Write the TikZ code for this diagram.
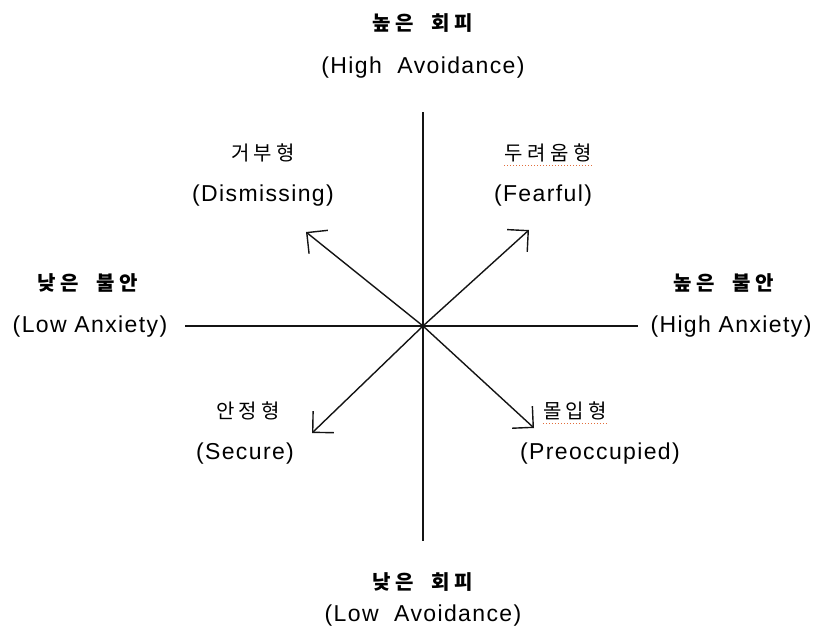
\documentclass[tikz,border=0pt]{standalone}
\usepackage{fontspec}
\setmainfont{Liberation Sans}[LetterSpace=6]
\newfontfamily\krfont{Noto Sans CJK KR}[LetterSpace=22]
\usetikzlibrary{arrows.meta}
\definecolor{axisink}{RGB}{20,20,20}
\definecolor{spellmark}{RGB}{225,110,60}
\tikzset{
  kr/.style={font=\krfont\fontsize{20}{24}\selectfont, inner sep=0pt},
  krbold/.style={font=\krfont\bfseries\fontsize{20}{24}\selectfont, inner sep=0pt},
  en/.style={font=\fontsize{23}{26}\selectfont, inner sep=0pt},
  axisline/.style={axisink, line width=1.8pt},
  typearrow/.style={axisink, line width=1.4pt, -{Straight Barb[length=15pt,width=30pt,line width=1.4pt]}},
  spellline/.style={spellmark, line width=1pt, dotted}
}
\newcommand{\duallabel}[8]{%
  % Korean line above, English line below.
  \node[#8] (#1kr) at (#2,#3) {#6};
  \node[en] (#1en) at (#4,#5) {#7};
}

\begin{document}
\begin{tikzpicture}[x=1pt,y=-1pt]
    \useasboundingbox (0,0) rectangle (814,634);
    \coordinate (o) at (423,326);
    \coordinate (vtop) at (423,112);
    \coordinate (vbot) at (423,541);
    \coordinate (hleft) at (185,326);
    \coordinate (hright) at (638,326);
    \coordinate (ne) at (529,230);
    \coordinate (nw) at (306,232);
    \coordinate (sw) at (312,433);
    \coordinate (se) at (534,428);
    \draw[axisline] (vtop) -- (vbot);
    \draw[axisline] (hleft) -- (hright);
    \foreach \c in {ne,nw,sw,se}
      \draw[typearrow] (o) -- (\c);
    \duallabel{highavoid}{423}{23}{423}{68}{높은\ \ 회피}{(High\ \ Avoidance)}{krbold}
    \duallabel{lowavoid}{423}{582}{423}{616}{낮은\ \ 회피}{(Low\ \ Avoidance)}{krbold}
    \duallabel{lowanx}{88}{283}{90}{327}{낮은\ \ 불안}{(Low\ Anxiety)}{krbold}
    \duallabel{highanx}{724}{283}{731}{327}{높은\ \ 불안}{(High\ Anxiety)}{krbold}
    \duallabel{dismiss}{263}{153}{263}{196}{거부형}{(Dismissing)}{kr}
    \duallabel{fearful}{548}{153}{543}{196}{두려움형}{(Fearful)}{kr}
    \duallabel{secure}{248}{411}{245}{454}{안정형}{(Secure)}{kr}
    \duallabel{preocc}{575}{411}{600}{454}{몰입형}{(Preoccupied)}{kr}
    \draw[spellline] ([yshift=-3pt]fearfulkr.south west) -- ([yshift=-3pt]fearfulkr.south east);
    \draw[spellline] ([yshift=-3pt]preocckr.south west) -- ([yshift=-3pt]preocckr.south east);
  \end{tikzpicture}
\end{document}
